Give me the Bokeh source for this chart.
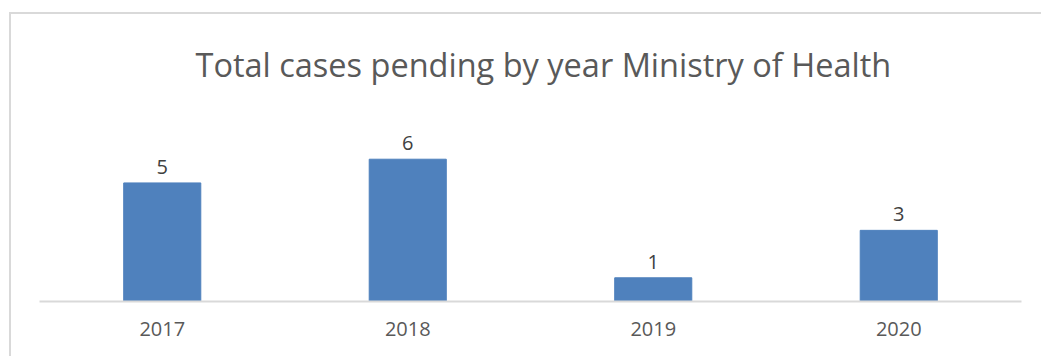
from bokeh.plotting import figure
from bokeh.layouts import column
from bokeh.models import ColumnDataSource, Range1d, FactorRange
from bokeh.core.properties import value
from bokeh.embed import file_html
from bokeh.resources import INLINE

years = ["2017", "2018", "2019", "2020"]
cases = [5, 6, 1, 3]
title_text = "Total cases pending by year Ministry of Health"

src = ColumnDataSource(dict(x=years, top=cases, lbl=[str(v) for v in cases]))

p = figure(x_range=FactorRange(*years, range_padding=0), y_range=Range1d(0, 7),
           width=1030, height=362, output_backend="svg", toolbar_location=None,
           title=title_text,
           min_border_left=28, min_border_right=20, min_border_top=0, min_border_bottom=55)
p.margin = (-20, 0, 0, 0)
p.border_fill_color = None
p.background_fill_color = None

p.vbar(x="x", top="top", width=0.314, source=src, fill_color="#4F81BD", line_color="#4F81BD")
p.text(x="x", y="top", text="lbl", source=src, y_offset=-16, text_align="center",
       text_baseline="alphabetic", text_font=value("Open Sans"), text_font_size="20px",
       text_color="#404040")

p.title.align = "left"
p.title.vertical_align = "top"
p.title.offset = 156
p.title.standoff = 94
p.title.text_font = "Open Sans"
p.title.text_font_size = "32.5px"
p.title.text_font_style = "normal"
p.title.text_color = "#595959"

p.yaxis.visible = False
p.xgrid.grid_line_color = None
p.ygrid.grid_line_color = None
p.outline_line_color = None
p.xaxis.axis_line_color = "#D9D9D9"
p.xaxis.axis_line_width = 2
p.xaxis.major_tick_line_color = None
p.xaxis.minor_tick_line_color = None
p.xaxis.major_label_text_font = "Open Sans"
p.xaxis.major_label_text_font_size = "20px"
p.xaxis.major_label_text_color = "#595959"
p.xaxis.major_label_standoff = 14

layout = column(p, margin=(12, 0, 0, 9),
                styles={"border-left": "2px solid #D9D9D9", "border-top": "2px solid #D9D9D9"})

open("out.html", "w").write(file_html(layout, INLINE))
